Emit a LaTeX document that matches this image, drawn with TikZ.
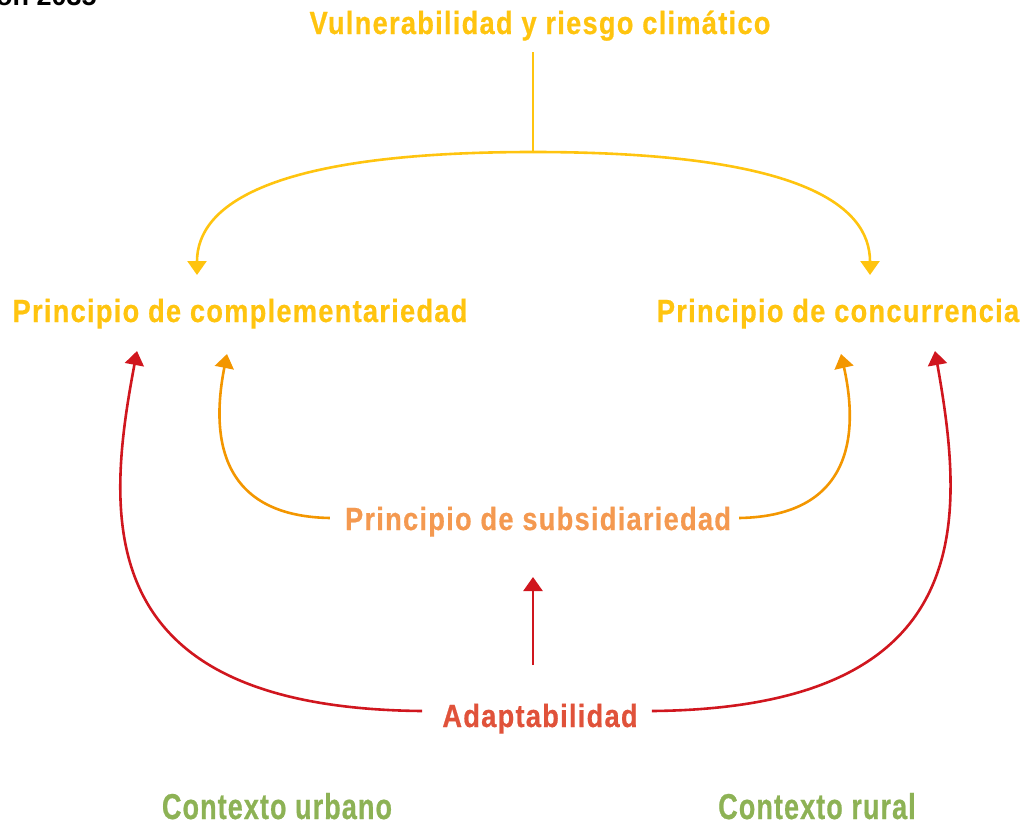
\documentclass[tikz,border=0pt]{standalone}
\usepackage{fontspec}
\setmainfont{Liberation Sans}[FakeStretch=0.85,LetterSpace=4,BoldFeatures={FakeBold=0.6}]
\newfontfamily\plainsans{Liberation Sans}
\newfontfamily\ctxfont{Liberation Sans}[FakeStretch=0.75,LetterSpace=3,BoldFeatures={FakeBold=0.6}]
\usetikzlibrary{arrows.meta,calc}
\definecolor{cyellow}{RGB}{255,196,15}
\definecolor{corange}{RGB}{243,150,0}
\definecolor{csub}{RGB}{244,153,80}
\definecolor{cred}{RGB}{208,22,30}
\definecolor{cadapt}{RGB}{224,82,58}
\definecolor{cgreen}{RGB}{141,178,85}
\tikzset{
  lbl/.style={inner sep=0pt, anchor=base, font=\fontsize{32}{36}\selectfont\bfseries},
  ctx/.style={inner sep=0pt, anchor=base, text=cgreen, font=\fontsize{36}{40}\selectfont\ctxfont\bfseries},
  conn/.style={line width=2.6pt, -{Triangle[width=19pt,length=14pt]}},
  plain/.style={line width=2.6pt},
}
\begin{document}
\begin{tikzpicture}[x=1pt,y=-1pt]
\useasboundingbox (0,0) rectangle (1022,825);
\node[inner sep=0pt, anchor=base west, font=\fontsize{27}{30}\selectfont\plainsans\bfseries] (head) at (-4,5) {on 2035};
\node[lbl, text=cyellow] (vul) at (540,34) {Vulnerabilidad y riesgo climático};
\node[lbl, text=cyellow] (comp) at (240,322) {Principio de complementariedad};
\node[lbl, text=cyellow] (conc) at (838,322) {Principio de concurrencia};
\node[lbl, text=csub] (sub) at (538,530) {Principio de subsidiariedad};
\node[lbl, text=cadapt] (adapt) at (540,727) {Adaptabilidad};
\node[ctx] (urb) at (277,819) {Contexto urbano};
\node[ctx] (rur) at (817,819) {Contexto rural};
% named connector points
\coordinate (split) at (533,152);
\coordinate (compin) at (197,275);
\coordinate (concin) at (870,275);
\coordinate (compsub) at (227,354);
\coordinate (concsub) at (841,354);
\coordinate (compad) at (137,351);
\coordinate (concad) at (935,351);
\coordinate (vulout) at (533,52);
% yellow
\draw[plain, cyellow] (vulout) -- (split);
\draw[conn, cyellow] (split) .. controls (270,152) and (197,205) .. (compin);
\draw[conn, cyellow] (split) .. controls (800,152) and (870,205) .. (concin);
% orange
\draw[conn, corange] ([xshift=-15pt,yshift=12pt]sub.base west) .. controls (215,516) and (212,430) .. (compsub);
\draw[conn, corange] ([xshift=8pt,yshift=12pt]sub.base east) .. controls (855,516) and (858,430) .. (concsub);
% red
\draw[conn, cred] ([xshift=-20pt,yshift=16pt]adapt.base west) .. controls (90,708) and (105,520) .. (compad);
\draw[conn, cred] ([xshift=14pt,yshift=16pt]adapt.base east) .. controls (980,708) and (965,520) .. (concad);
\draw[conn, cred] ([yshift=62pt]adapt.base -| split) -- ([yshift=-47pt]sub.base -| split);
\end{tikzpicture}
\end{document}
